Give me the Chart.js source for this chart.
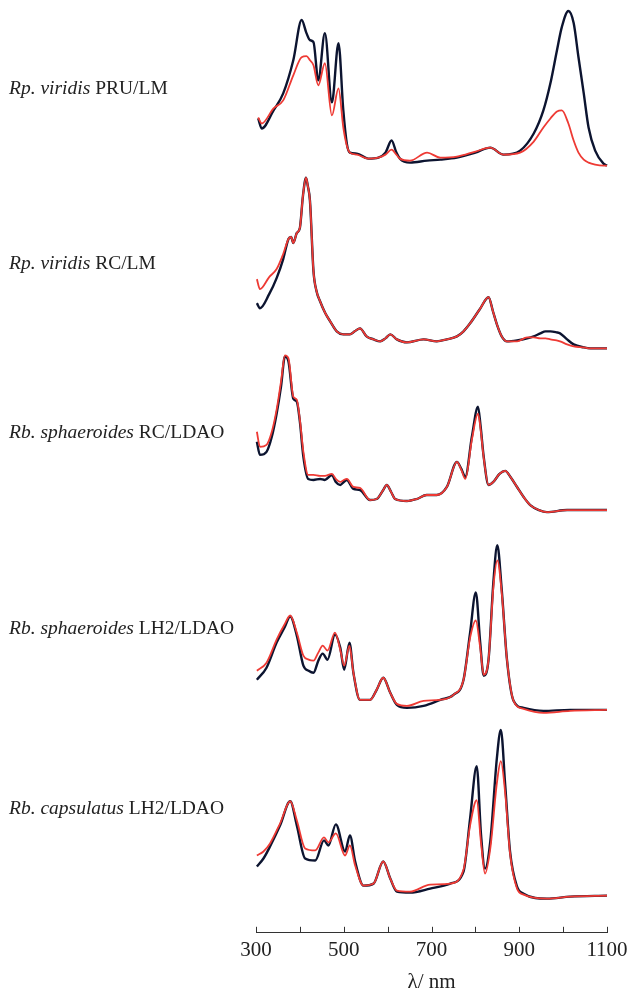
<!DOCTYPE html>
<html>
<head>
<meta charset="utf-8">
<script src="https://cdn.jsdelivr.net/npm/chart.js@4.4.1/dist/chart.umd.min.js"></script>
<style>
  html, body { margin: 0; padding: 0; background: #fff; overflow: hidden; }
  #wrap { position: relative; width: 629px; height: 991px; }
  .lbl {
    position: absolute; left: 9px; white-space: nowrap;
    font-family: "Liberation Serif", serif; font-size: 19.5px; color: #222;
    transform: translateY(-50%);
  }
</style>
</head>
<body>
<div id="wrap">
  <canvas id="canvas" width="629" height="991"></canvas>
  <div class="lbl" style="top:88px"><i>Rp. viridis</i> PRU/LM</div>
  <div class="lbl" style="top:263px"><i>Rp. viridis</i> RC/LM</div>
  <div class="lbl" style="top:432px"><i>Rb. sphaeroides</i> RC/LDAO</div>
  <div class="lbl" style="top:628px"><i>Rb. sphaeroides</i> LH2/LDAO</div>
  <div class="lbl" style="top:808px"><i>Rb. capsulatus</i> LH2/LDAO</div>
</div>
<script>
// spectra (absorbance, arbitrary units), black = dark trace, red = red trace

// Rp. viridis PRU/LM
const wlPru = [305,313,340,362,385,404,415,423,431,442,457,473,488,499,507,514,530,556,579,595,609,620,628,651,690,720,758,800,834,864,902,933,955,971,986,997,1012,1024,1035,1047,1058,1073,1092,1100];
const pruBlack = [.47,.37,.55,.72,1.05,1.45,1.32,1.25,1.23,.85,1.32,.63,1.22,.55,.22,.13,.12,.07,.08,.13,.25,.13,.07,.03,.05,.06,.08,.13,.18,.11,.15,.32,.55,.82,1.15,1.38,1.54,1.42,1.08,.72,.38,.15,.02,0];
const pruRed = [.48,.42,.57,.65,.90,1.08,1.09,1.05,1.00,.80,1.02,.50,.77,.38,.20,.13,.11,.07,.08,.11,.16,.11,.07,.05,.13,.08,.09,.14,.18,.11,.13,.24,.38,.47,.54,.55,.42,.25,.13,.06,.03,.01,0,0];

// Rp. viridis RC/LM
const wlRcv = [302,309,330,347,362,374,380,385,393,400,407,414,418,423,431,438,446,458,469,484,499,514,525,537,552,568,583,595,606,621,644,682,712,735,758,773,788,810,830,840,849,860,872,895,918,933,948,960,971,985,993,1009,1024,1047,1062,1100];
const rcvBlack = [.45,.40,.54,.70,.89,1.09,1.11,1.05,1.15,1.20,1.52,1.70,1.62,1.47,.77,.57,.47,.35,.27,.17,.14,.14,.17,.20,.12,.09,.07,.10,.14,.09,.06,.09,.07,.09,.12,.17,.25,.39,.51,.37,.24,.12,.07,.08,.10,.12,.15,.17,.17,.16,.15,.09,.04,.01,0,0];
const rcvRed = [.69,.59,.71,.79,.94,1.09,1.11,1.05,1.15,1.20,1.52,1.70,1.62,1.47,.77,.57,.47,.35,.27,.17,.14,.14,.17,.20,.12,.09,.07,.10,.14,.09,.06,.09,.07,.09,.12,.17,.25,.39,.51,.37,.24,.12,.07,.07,.11,.11,.10,.10,.09,.08,.07,.04,.02,.01,0,0];

// Rb. sphaeroides RC/LDAO
const wlRcs = [302,309,324,336,347,357,366,374,385,393,400,408,419,431,446,457,473,482,492,500,507,522,537,560,575,590,598,608,617,644,666,689,712,735,758,768,777,792,806,812,819,830,841,855,868,880,895,910,925,945,963,1009,1100];
const rcsBlack = [.68,.55,.58,.73,.96,1.23,1.53,1.48,1.11,1.08,.88,.53,.31,.30,.31,.30,.35,.28,.25,.28,.30,.21,.20,.10,.11,.20,.25,.18,.11,.09,.11,.15,.15,.23,.48,.41,.33,.73,1.03,.83,.53,.25,.28,.36,.39,.33,.23,.13,.05,0,-.02,0,0];
const rcsRed = [.78,.63,.65,.78,1.00,1.28,1.54,1.51,1.13,1.10,.90,.58,.35,.35,.34,.34,.36,.31,.28,.30,.31,.23,.22,.10,.11,.20,.25,.18,.11,.09,.11,.15,.15,.23,.48,.40,.31,.70,.96,.80,.52,.25,.28,.36,.39,.33,.23,.13,.05,0,-.02,0,0];

// Rb. sphaeroides LH2/LDAO
const wlLh2s = [302,324,347,365,378,393,408,420,431,442,452,463,480,492,501,513,522,537,560,575,590,606,621,644,682,720,750,773,788,801,811,819,830,841,850,860,872,887,910,955,1016,1100];
const lh2sBlack = [.30,.42,.67,.82,.93,.74,.44,.39,.37,.49,.56,.50,.75,.62,.40,.67,.37,.10,.10,.20,.32,.17,.05,.02,.04,.10,.15,.30,.77,1.17,.67,.34,.50,1.27,1.64,1.20,.50,.09,.02,-.01,0,0];
const lh2sRed = [.39,.47,.70,.85,.94,.77,.54,.50,.49,.57,.64,.59,.77,.60,.44,.64,.37,.10,.10,.20,.32,.17,.06,.04,.09,.10,.15,.30,.72,.89,.62,.35,.50,1.22,1.49,1.17,.50,.09,.01,-.03,-.01,0];

// Rb. capsulatus LH2/LDAO
const wlLh2c = [302,317,332,355,378,393,412,435,455,465,482,503,514,526,545,568,590,606,621,651,697,743,773,788,803,813,822,834,849,858,868,879,895,910,963,1016,1100];
const lh2cBlack = [.29,.37,.49,.70,.94,.70,.37,.35,.55,.50,.71,.44,.60,.34,.10,.12,.34,.17,.04,.03,.07,.12,.24,.77,1.29,.60,.27,.54,1.37,1.65,1.10,.44,.09,.02,-.03,-.01,0];
const lh2cRed = [.40,.44,.52,.72,.94,.75,.47,.45,.58,.53,.62,.40,.50,.30,.10,.12,.34,.17,.05,.04,.11,.12,.26,.70,.95,.52,.22,.47,1.12,1.34,1.02,.42,.07,.01,-.03,-.01,0];

const xTicks = [300,400,500,600,700,800,900,1000,1100];

// vertical stacking of the five spectra (top to bottom)
const panels = [
  { wl: wlPru, black: pruBlack, red: pruRed, offset: 7.64 },
  { wl: wlRcv, black: rcvBlack, red: rcvRed, offset: 5.82 },
  { wl: wlRcs, black: rcsBlack, red: rcsRed, offset: 4.21 },
  { wl: wlLh2s, black: lh2sBlack, red: lh2sRed, offset: 2.22 },
  { wl: wlLh2c, black: lh2cBlack, red: lh2cRed, offset: 0.37 },
];

function toPoints(wl, vals, offset) {
  return wl.map((w, i) => ({ x: w, y: vals[i] + offset }));
}

const lineBase = {
  pointRadius: 0,
  cubicInterpolationMode: "monotone",
  clip: false,
  fill: false,
};

const datasets = [];
// red traces first so they sit on top
panels.forEach((p) => {
  datasets.push({ ...lineBase, data: toPoints(p.wl, p.red, p.offset), borderColor: "#ee3a34", borderWidth: 1.8 });
});
panels.forEach((p) => {
  datasets.push({ ...lineBase, data: toPoints(p.wl, p.black, p.offset), borderColor: "#0c1430", borderWidth: 2.4 });
});

// tick marks point up from the axis line
const innerTicks = {
  id: "innerTicks",
  afterDraw(chart) {
    const sx = chart.scales.x;
    const ctx = chart.ctx;
    ctx.save();
    ctx.strokeStyle = "#333";
    ctx.lineWidth = 1;
    xTicks.forEach((v) => {
      const px = Math.round(sx.getPixelForValue(v)) + 0.5;
      ctx.beginPath();
      ctx.moveTo(px, sx.top);
      ctx.lineTo(px, sx.top - 6);
      ctx.stroke();
    });
    ctx.restore();
  },
};

const ctx = document.getElementById("canvas").getContext("2d");
new Chart(ctx, {
  type: "line",
  data: { datasets },
  plugins: [innerTicks],
  options: {
    responsive: false,
    animation: false,
    devicePixelRatio: 1,
    layout: { padding: { left: 256, right: 22, top: 4, bottom: 0 } },
    plugins: { legend: { display: false }, tooltip: { enabled: false } },
    scales: {
      x: {
        type: "linear",
        min: 300,
        max: 1100,
        afterBuildTicks: (scale) => { scale.ticks = xTicks.map((v) => ({ value: v })); },
        // let the "1100" label hang past the plot edge like in the figure
        afterFit: (scale) => { scale.paddingRight = 0; },
        ticks: {
          autoSkip: false,
          maxRotation: 0,
          padding: 5,
          color: "#222",
          font: { family: "Liberation Serif", size: 21 },
          callback: (v) => ((v - 300) % 200 === 0 ? String(v) : ""),
        },
        grid: { drawOnChartArea: false, drawTicks: false },
        border: { display: true, color: "#333", width: 1 },
        title: {
          display: true,
          text: "λ/ nm",
          color: "#222",
          font: { family: "Liberation Serif", size: 21, lineHeight: 1 },
          padding: { top: 4, bottom: -2 },
        },
      },
      y: { display: false, min: 0, max: 9.25 },
    },
  },
});
</script>
</body>
</html>
